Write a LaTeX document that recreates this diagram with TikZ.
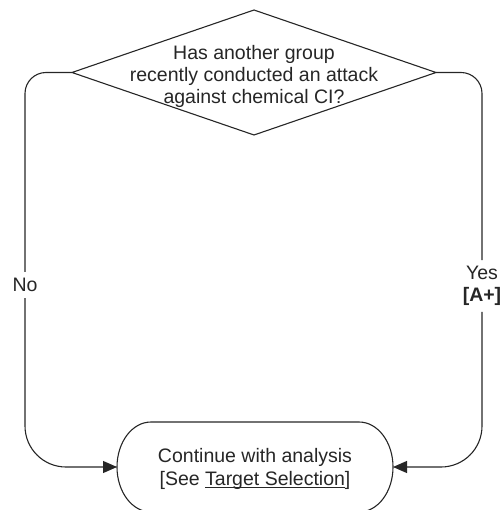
\documentclass[tikz,border=0pt]{standalone}
\usepackage{fontspec}
\setmainfont{Liberation Sans}
\usetikzlibrary{shapes.geometric,arrows.meta,calc}

% underline at a fixed depth below the baseline
\newsavebox{\linkbox}
\newcommand{\linkunder}[1]{%
  \sbox{\linkbox}{#1}%
  \rlap{\rule[-2.8pt]{\wd\linkbox}{0.9pt}}\usebox{\linkbox}}

\tikzset{
  flowline/.style={line width=1.1pt, draw=black!85},
  arrowline/.style={flowline, -{Triangle[length=14pt,width=12pt]}},
  decision/.style={diamond, draw=black!85, line width=1.1pt, inner sep=0pt,
    outer sep=0pt, minimum width=364pt, minimum height=125pt},
  caption/.style={align=center, text=black!85, inner sep=0pt,
    font=\fontsize{19.5}{22}\selectfont},
  branchlabel/.style={align=center, text=black!85, inner sep=6pt,
    font=\fontsize{19.5}{22}\selectfont},
  endbox/.style={rectangle, draw=none, inner sep=0pt, outer sep=0pt,
    minimum width=276pt, minimum height=90pt}
}

\begin{document}
\begin{tikzpicture}[x=1pt, y=1pt]
  \useasboundingbox (0,0) rectangle (503,-510);

  % decision diamond and its question
  \node[decision] (q) at (254,-72.5) {};
  \node[caption] (qt) at (254,-76.5) {Has another group\\recently conducted an attack\\against chemical CI?};

  % terminal: flat top and bottom with elliptic ends
  \node[endbox] (t) at (255,-467) {};
  \draw[flowline]
    ($(t.north west)+(34,0)$) -- ($(t.north east)+(-34,0)$)
    arc[start angle=90, end angle=-90, x radius=34, y radius=45]
    -- ($(t.south west)+(34,0)$)
    arc[start angle=270, end angle=90, x radius=34, y radius=45] -- cycle;
  \node[caption, font=\fontsize{19.5}{23}\selectfont] (tt) at (255,-469)
    {Continue with analysis\\{}[See \linkunder{Target Selection}]};

  % branch labels on the vertical runs
  \node[branchlabel] (no) at (25,-285) {No};
  \node[branchlabel] (yes) at (482,-286) {Yes\\\textbf{[A+]}};

  % "No" branch
  \draw[flowline, rounded corners=21pt] (q.west) -| (no.north);
  \draw[arrowline, rounded corners=41pt] (no.south) |- (t.west);

  % "Yes" branch
  \draw[flowline, rounded corners=21pt] (q.east) -| (yes.north);
  \draw[arrowline, rounded corners=41pt] (yes.south) |- (t.east);
\end{tikzpicture}
\end{document}
